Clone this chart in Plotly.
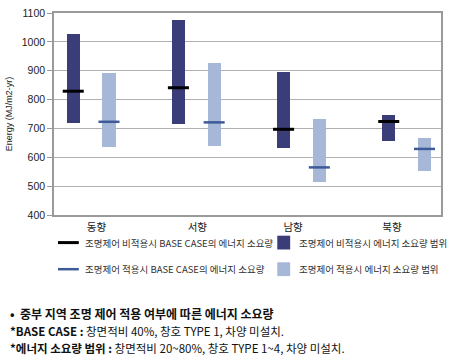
import plotly.graph_objects as go

categories = ["동향", "서향", "남향", "북향"]
dark_top = [1028, 1077, 895, 748]
dark_bottom = [719, 715, 633, 657]
dark_base = [829, 841, 697, 724]
light_top = [893, 928, 732, 667]
light_bottom = [637, 640, 514, 551]
light_base = [723, 721, 565, 629]
y_ticks = [400, 500, 600, 700, 800, 900, 1000, 1100]

DARK = "#3b3d79"
LIGHT = "#a7b7d7"
BLACK = "#000000"
BLUE = "#3e5b98"
OFF = 0.17
BW = 0.125
HALF = 0.1

idx = list(range(len(categories)))
dark_x = [i - OFF for i in idx]
light_x = [i + OFF for i in idx]

fig = go.Figure()
fig.add_trace(go.Bar(x=dark_x, y=[t - b for t, b in zip(dark_top, dark_bottom)], base=dark_bottom,
                     width=BW, marker=dict(color=DARK, line=dict(width=0)), showlegend=False))
fig.add_trace(go.Bar(x=light_x, y=[t - b for t, b in zip(light_top, light_bottom)], base=light_bottom,
                     width=BW, marker=dict(color=LIGHT, line=dict(width=0)), showlegend=False))

def seg(xs, ys):
    X, Y = [], []
    for x, y in zip(xs, ys):
        X += [x - HALF, x + HALF, None]
        Y += [y, y, None]
    return X, Y

X, Y = seg(dark_x, dark_base)
fig.add_trace(go.Scatter(x=X, y=Y, mode="lines", line=dict(color=BLACK, width=3), showlegend=False))
X, Y = seg(light_x, light_base)
fig.add_trace(go.Scatter(x=X, y=Y, mode="lines", line=dict(color=BLUE, width=2.5), showlegend=False))

fig.update_layout(
    width=450, height=361,
    margin=dict(l=53, r=7, t=10, b=146),
    paper_bgcolor="white", plot_bgcolor="white",
    font=dict(family="Liberation Sans, Noto Sans CJK KR", size=10, color="#222"),
    bargap=0, barmode="overlay",
    xaxis=dict(range=[-0.353, 3.327], tickvals=[0.05, 1.01, 1.92, 2.86], ticktext=categories,
               showgrid=False, zeroline=False, showline=True, linecolor="#9a9a9a", linewidth=1.5,
               mirror=True, ticks="", ticklabelstandoff=2,
               tickfont=dict(size=10.5, family="Noto Sans CJK KR", color="#222")),
    yaxis=dict(range=[400, 1100], tickvals=y_ticks, showgrid=True, gridcolor="#b0b0b0", gridwidth=1,
               zeroline=False, showline=True, linecolor="#9a9a9a", linewidth=1.5, mirror=True,
               ticks="outside", ticklen=5, tickcolor="#9a9a9a",
               tickfont=dict(size=10.5, color="#222"),
               title=dict(text="Energy (MJ/m2-yr)", font=dict(size=9, color="#222"), standoff=8)),
)

def px_x(px):
    return (px - 53) / 390.0

def px_y(py):
    return (215 - py) / 205.0

legend_items = [
    ("line", BLACK, 3, 57, 243, "조명제어 비적용시 BASE CASE의 에너지 소요량"),
    ("box", DARK, 0, 278, 243, "조명제어 비적용시 에너지 소요량 범위"),
    ("line", BLUE, 2.5, 57, 270, "조명제어 적용시 BASE CASE의 에너지 소요량"),
    ("box", LIGHT, 0, 278, 270, "조명제어 적용시 에너지 소요량 범위"),
]
for kind, color, w, px, py, text in legend_items:
    if kind == "line":
        fig.add_shape(type="line", xref="paper", yref="paper", x0=px_x(px), x1=px_x(78),
                      y0=px_y(py), y1=px_y(py), line=dict(color=color, width=w))
        tx = 82
    else:
        fig.add_shape(type="rect", xref="paper", yref="paper", x0=px_x(px), x1=px_x(px + 13),
                      y0=px_y(py + 7), y1=px_y(py - 7), fillcolor=color, line=dict(width=0))
        tx = 298
    fig.add_annotation(xref="paper", yref="paper", x=px_x(tx), y=px_y(py), xanchor="left",
                       yanchor="middle", showarrow=False, text=text,
                       font=dict(size=9.5, family="Noto Sans CJK KR", color="#333"))

notes = [
    (315, "<b>•  중부 지역 조명 제어 적용 여부에 따른 에너지 소요량</b>", 12),
    (333, "<b>*BASE CASE :</b> 창면적비 40%, 창호 TYPE 1, 차양 미설치.", 11.5),
    (350, "<b>*에너지 소요량 범위 :</b> 창면적비 20~80%, 창호 TYPE 1~4, 차양 미설치.", 11.5),
]
for py, text, sz in notes:
    fig.add_annotation(xref="paper", yref="paper", x=px_x(7), y=px_y(py), xanchor="left",
                       yanchor="middle", showarrow=False, text=text,
                       font=dict(size=sz, family="Noto Sans CJK KR", color="#111"))

fig.write_html("out.html", config={"displayModeBar": False},
               post_script="document.body.style.margin='0px';")
